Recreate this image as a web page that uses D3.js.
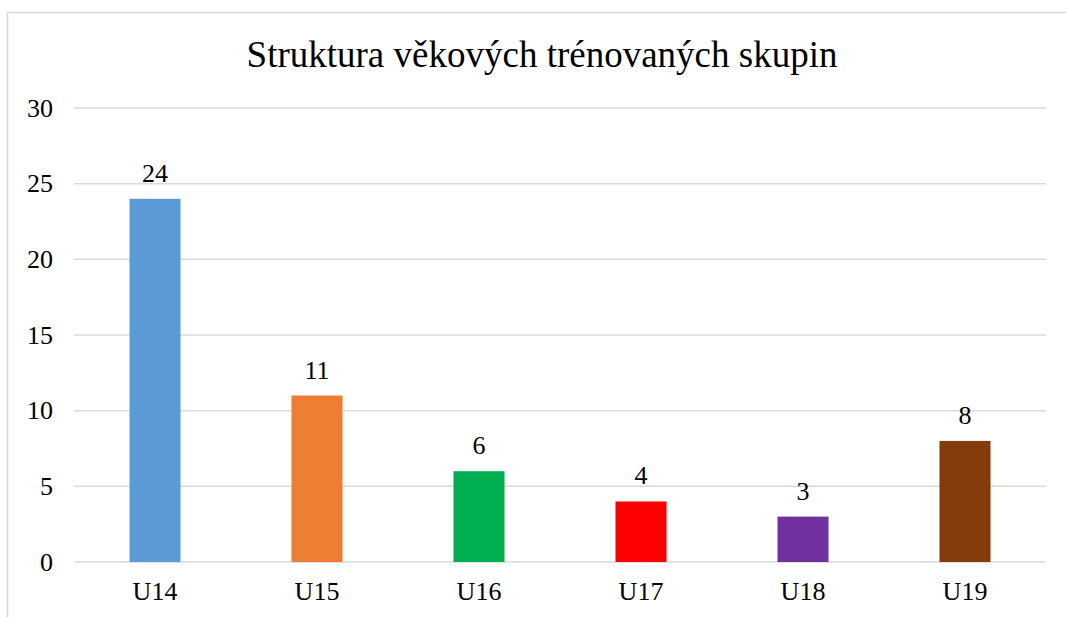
<!DOCTYPE html>
<html>
<head>
<meta charset="utf-8">
<script src="https://cdn.jsdelivr.net/npm/d3@7"></script>
<style>
  html, body { margin: 0; padding: 0; background: #fff; }
  svg { display: block; }
  svg text { font-family: "Liberation Serif", "Times New Roman", serif; fill: #000; }
</style>
</head>
<body>
<div id="chart"></div>
<script>
"use strict"

const categories = ["U14", "U15", "U16", "U17", "U18", "U19"]
const values = [24, 11, 6, 4, 3, 8]
const colors = ["#5B9BD5", "#ED7D31", "#00B050", "#FF0000", "#7030A0", "#843C0C"]
const yTicks = [0, 5, 10, 15, 20, 25, 30]
const title = "Struktura věkových trénovaných skupin"

const W = 1066, H = 617
const margin = {top: 108, right: 20, bottom: 55, left: 74}
const width = 1046 - margin.left
const height = 562 - margin.top

const svg = d3.select("#chart")
  .append("svg")
  .attr("width", W)
  .attr("height", H)

// chart frame (clipped on right and bottom like the original)
svg.append("path")
  .attr("d", "M7.5," + H + " V12.5 H" + W)
  .attr("fill", "none")
  .attr("stroke", "#d9d9d9")
  .attr("stroke-width", 1.5)

svg.append("text")
  .attr("x", 542)
  .attr("y", 67)
  .attr("text-anchor", "middle")
  .style("font-size", "37px")
  .text(title)

const g = svg.append("g")
  .attr("transform", "translate(" + margin.left + "," + margin.top + ")")

const x = d3.scaleBand()
  .domain(categories)
  .range([0, width])
  .paddingInner(0.685)
  .paddingOuter(0.3425)

const y = d3.scaleLinear()
  .domain([0, 30])
  .range([height, 0])

// gridlines
g.append("g")
  .selectAll("line")
  .data(yTicks)
  .join("line")
    .attr("x1", 0)
    .attr("x2", width)
    .attr("y1", d => y(d))
    .attr("y2", d => y(d))
    .attr("stroke", "#d9d9d9")
    .attr("stroke-width", 1.5)

// y axis labels
const yAxis = g.append("g")
  .call(d3.axisLeft(y).tickValues(yTicks).tickSize(0).tickPadding(21))
yAxis.select(".domain").remove()
yAxis.selectAll("text").style("font-size", "26px")

// bars
g.append("g")
  .selectAll("rect")
  .data(values)
  .join("rect")
    .attr("x", (d, i) => x(categories[i]))
    .attr("y", d => y(d))
    .attr("width", x.bandwidth())
    .attr("height", d => height - y(d))
    .attr("fill", (d, i) => colors[i])

// value labels
g.append("g")
  .selectAll("text")
  .data(values)
  .join("text")
    .attr("x", (d, i) => x(categories[i]) + x.bandwidth() / 2)
    .attr("y", d => y(d) - 17)
    .attr("text-anchor", "middle")
    .style("font-size", "26px")
    .text(d => d)

// x axis labels
const xAxis = g.append("g")
  .attr("transform", "translate(0," + height + ")")
  .call(d3.axisBottom(x).tickSize(0).tickPadding(20))
xAxis.select(".domain").remove()
xAxis.selectAll("text").style("font-size", "26px")
</script>
</body>
</html>
